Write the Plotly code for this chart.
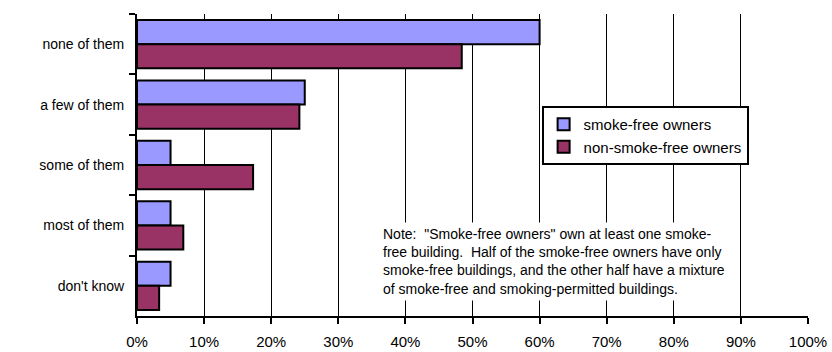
import plotly.graph_objects as go

categories = ["none of them", "a few of them", "some of them", "most of them", "don't know"]
smoke_free = [0.60, 0.25, 0.05, 0.05, 0.05]
non_smoke_free = [0.484, 0.242, 0.173, 0.069, 0.033]
x_ticks = [i / 10 for i in range(11)]
x_tick_labels = [f"{i * 10}%" for i in range(11)]
note_text = ('Note:  "Smoke-free owners" own at least one smoke-<br>'
             'free building.  Half of the smoke-free owners have only<br>'
             'smoke-free buildings, and the other half have a mixture<br>'
             'of smoke-free and smoking-permitted buildings.')

fig = go.Figure()
fig.add_trace(go.Bar(y=categories, x=smoke_free, orientation="h", name="smoke-free owners",
                     marker=dict(color="#9999FF", line=dict(color="black", width=2))))
fig.add_trace(go.Bar(y=categories, x=non_smoke_free, orientation="h", name="non-smoke-free owners",
                     marker=dict(color="#993366", line=dict(color="black", width=2))))

fig.update_layout(
    width=832, height=352,
    margin=dict(l=137, r=24, t=14, b=36),
    paper_bgcolor="white", plot_bgcolor="white",
    barmode="group", bargap=0.2, bargroupgap=0,
    font=dict(family="Liberation Sans, Arial, sans-serif", size=14, color="black"),
    legend=dict(x=0.603, y=0.695, xanchor="left", yanchor="top",
                bordercolor="black", borderwidth=2, bgcolor="white",
                font=dict(size=15), tracegroupgap=0, itemwidth=30),
    showlegend=True,
)
fig.update_xaxes(range=[0, 1], tickvals=x_ticks, ticktext=x_tick_labels,
                 showgrid=True, gridcolor="black", gridwidth=1,
                 showline=True, linecolor="black", linewidth=2,
                 ticks="outside", ticklen=6, tickcolor="black", tickwidth=2,
                 ticklabelstandoff=5, automargin=False,
                 zeroline=False, tickfont=dict(size=15))
fig.update_yaxes(autorange="reversed", showline=True, linecolor="black", linewidth=2,
                 ticks="outside", ticklen=6, tickcolor="black", tickwidth=2,
                 ticklabelstandoff=8, automargin=False,
                 tickson="boundaries", showgrid=False, tickfont=dict(size=14))

fig.add_annotation(xref="paper", yref="paper", x=0.36, y=0.311, xanchor="left", yanchor="top",
                   text=note_text, showarrow=False, align="left",
                   bgcolor="white", borderpad=3,
                   font=dict(size=14, color="black"))

fig.write_html("out.html")
